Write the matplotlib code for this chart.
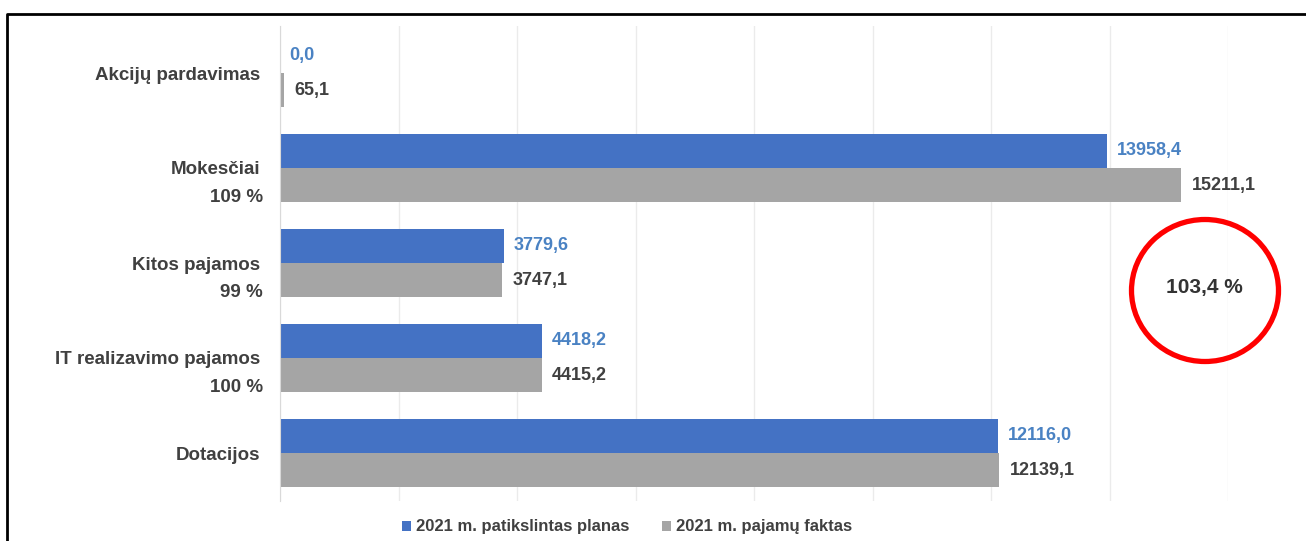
import matplotlib
matplotlib.use("Agg")
import matplotlib.pyplot as plt
from matplotlib.patches import Ellipse
from matplotlib.lines import Line2D
import numpy as np

categories = ["Akcijų pardavimas", "Mokesčiai", "Kitos pajamos", "IT realizavimo pajamos", "Dotacijos"]
percent_labels = ["", "109 %", "99 %", "100 %", ""]
plan_values = [0.0, 13958.4, 3779.6, 4418.2, 12116.0]
fact_values = [65.1, 15211.1, 3747.1, 4415.2, 12139.1]
series_names = ["2021 m. patikslintas planas", "2021 m. pajamų faktas"]
total_percent = "103,4 %"

BLUE = "#4472C4"
GRAY = "#A5A5A5"
BLUE_TXT = "#4A82C3"
DARK = "#404040"

plt.rcParams['font.family'] = ['Liberation Sans', 'DejaVu Sans']

W, H = 1306, 541
fig = plt.figure(figsize=(W / 100, H / 100), dpi=100)
ax = fig.add_axes([280 / W, 1 - 500.5 / H, (1228 - 280) / W, (500.5 - 25.5) / H])

y = np.arange(len(categories))
bh = 0.358
ax.barh(y - bh / 2, plan_values, height=bh, color=BLUE, label=series_names[0], zorder=3)
ax.barh(y + bh / 2, fact_values, height=bh, color=GRAY, label=series_names[1], zorder=3)

def fmt(v):
    return f"{v:.1f}".replace(".", ",")

for i in range(len(categories)):
    ax.annotate(fmt(plan_values[i]), xy=(plan_values[i], y[i] - bh / 2), xytext=(7, 0),
                textcoords="offset points", ha="left", va="center",
                fontsize=13, fontweight="bold", color=BLUE_TXT)
    ax.annotate(fmt(fact_values[i]), xy=(fact_values[i], y[i] + bh / 2), xytext=(7.5, 0),
                textcoords="offset points", ha="left", va="center",
                fontsize=13, fontweight="bold", color=DARK)
    if percent_labels[i]:
        ax.annotate(percent_labels[i], xy=(0, y[i] + 0.31), xycoords=ax.get_yaxis_transform(),
                    xytext=(-12.5, 0), textcoords="offset points", ha="right", va="center",
                    fontsize=13.5, fontweight="bold", color=DARK)

ax.set_xlim(0, 16000)
ax.set_ylim(len(categories) - 0.5, -0.5)
ax.set_xticks(np.arange(0, 16001, 2000))
ax.set_xticklabels([])
ax.set_yticks(y)
ax.set_yticklabels(categories, fontsize=13.5, fontweight="bold", color=DARK)
ax.tick_params(axis="y", length=0, pad=14)
ax.tick_params(axis="x", length=0)
ax.grid(axis="x", color="#EBEBEB", linewidth=1, zorder=0)
for s in ["top", "right", "bottom"]:
    ax.spines[s].set_visible(False)
ax.spines["left"].set_color("#D9D9D9")
ax.spines["left"].set_zorder(4)

leg = fig.legend(loc="center", bbox_to_anchor=(627 / W, 1 - 527 / H), ncol=2, frameon=False,
                 handlelength=0.55, handleheight=0.55, handletextpad=0.25, columnspacing=2.0,
                 prop={"size": 12, "weight": "bold"})
for t in leg.get_texts():
    t.set_color(DARK)

# red circle annotation
fig.add_artist(Ellipse((1205 / W, 1 - 290.5 / H), 147 / W, 142 / H, transform=fig.transFigure,
                       fill=False, edgecolor="#FF0000", linewidth=3.8))
fig.text(1204 / W, 1 - 287 / H, total_percent, ha="center", va="center",
         fontsize=15, fontweight="bold", color="#333333")

# frame
fig.add_artist(Line2D([6.5 / W, 6.5 / W, 1.0], [0.0, 1 - 14 / H, 1 - 14 / H],
                      transform=fig.transFigure, color="black", linewidth=2))

fig.savefig("out.png", dpi=100)
